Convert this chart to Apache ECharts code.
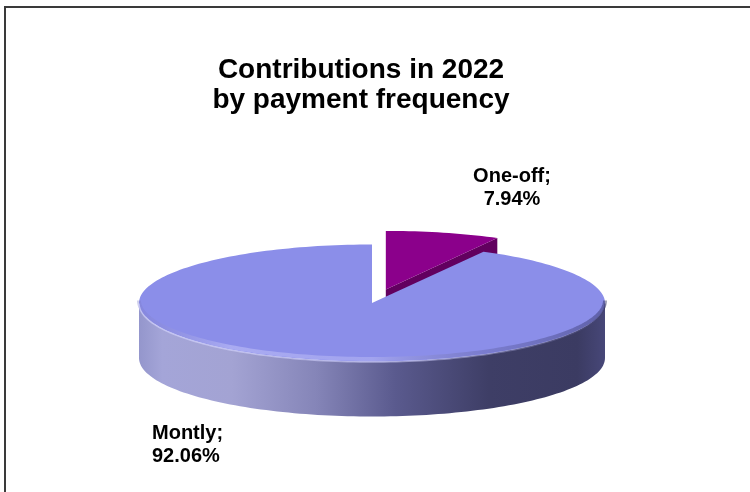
<!DOCTYPE html>
<html>
<head>
<meta charset="utf-8">
<script src="https://cdn.jsdelivr.net/npm/echarts@6/dist/echarts.min.js"></script>
<style>
html,body{margin:0;padding:0;background:#fff;}
#chart{width:750px;height:492px;}
</style>
</head>
<body>
<div id="chart"></div>
<script>
// ---- data ----
const categories = ['One-off', 'Montly'];
const shares = [7.94, 92.06];
const titleLines = ['Contributions in 2022', 'by payment frequency'];

// ---- style / geometry ----
const CX = 372, CY = 303, RX = 233, RY = 58.5, DEPTH = 55;
const EXPLODE = [0.24, 0];
const TOP_COLORS = ['#8b008b', '#8b8ee9'];
const CUT_COLORS = ['#62005f', '#6f72c8'];

function pt(theta, ox, oy, dz) {
  return [CX + ox + RX * Math.sin(theta), CY + oy - RY * Math.cos(theta) + (dz || 0)];
}
function arc(a0, a1, ox, oy, dz) {
  const n = Math.max(8, Math.ceil((a1 - a0) / (Math.PI / 120)));
  const pts = [];
  for (let k = 0; k <= n; k++) pts.push(pt(a0 + (a1 - a0) * k / n, ox, oy, dz));
  return pts;
}

function renderItem(params, api) {
  const i = params.dataIndex;
  const total = shares.reduce((a, b) => a + b, 0);
  let before = 0;
  for (let j = 0; j < i; j++) before += shares[j];
  const val = api.value(1);
  const a0 = before / total * 2 * Math.PI;
  const a1 = (before + val) / total * 2 * Math.PI;
  const mid = (a0 + a1) / 2;
  const ex = EXPLODE[i];
  const ox = RX * ex * Math.sin(mid), oy = -RY * ex * Math.cos(mid);
  const c = [CX + ox, CY + oy];
  const base = i === 0 ? 0 : 10;
  const children = [];

  // outer wall (front half only)
  const s = Math.max(a0, Math.PI / 2), e = Math.min(a1, 3 * Math.PI / 2);
  if (e > s) {
    const top = arc(s, e, ox, oy, 0);
    const bot = arc(s, e, ox, oy, DEPTH).reverse();
    children.push({
      type: 'polygon', z2: base + 1,
      shape: { points: top.concat(bot) },
      style: {
        fill: new echarts.graphic.LinearGradient(1, 0, 0, 0, [
          { offset: 0, color: '#474778' },
          { offset: 0.06, color: '#3b3b62' },
          { offset: 0.25, color: '#3e3e66' },
          { offset: 0.45, color: '#5a5a8e' },
          { offset: 0.62, color: '#8585b8' },
          { offset: 0.8, color: '#a3a3d3' },
          { offset: 0.95, color: '#a4a5d8' },
          { offset: 1, color: '#9496cc' }
        ])
      }
    });
  }

  // visible radial cut face (end edge of the exploded slice)
  if (ex > 0) {
    const r1 = pt(a1, ox, oy, 0), r2 = pt(a1, ox, oy, DEPTH);
    children.push({
      type: 'polygon', z2: base + 1,
      shape: { points: [c, r1, r2, [c[0], c[1] + DEPTH]] },
      style: { fill: CUT_COLORS[i] }
    });
  }

  // top face
  children.push({
    type: 'polygon', z2: base + 2,
    shape: { points: [c].concat(arc(a0, a1, ox, oy, 0)) },
    style: { fill: TOP_COLORS[i] }
  });

  // bevel highlight along the front rim
  if (e > s) {
    children.push({
      type: 'polyline', z2: base + 3,
      shape: { points: arc(s, e, ox, oy, -2.5) },
      style: {
        fill: null, lineWidth: 4,
        stroke: new echarts.graphic.LinearGradient(1, 0, 0, 0, [
          { offset: 0, color: 'rgba(40,40,90,0.45)' },
          { offset: 0.25, color: 'rgba(80,80,140,0.3)' },
          { offset: 0.5, color: 'rgba(190,190,245,0.45)' },
          { offset: 0.8, color: 'rgba(200,200,250,0.5)' },
          { offset: 1, color: 'rgba(120,120,200,0.35)' }
        ])
      }
    });
    children.push({
      type: 'polyline', z2: base + 3,
      shape: { points: arc(s, e, ox, oy, 0.5) },
      style: {
        fill: null, lineWidth: 1.5,
        stroke: new echarts.graphic.LinearGradient(1, 0, 0, 0, [
          { offset: 0, color: 'rgba(60,60,110,0.6)' },
          { offset: 0.4, color: 'rgba(200,200,245,0.6)' },
          { offset: 1, color: 'rgba(210,210,250,0.7)' }
        ])
      }
    });
  }
  return { type: 'group', children };
}

const labelTexts = categories.map((n, k) => n + ';\n' + shares[k].toFixed(2) + '%');

const chart = echarts.init(document.getElementById('chart'), null, { renderer: 'canvas' });
chart.setOption({
  backgroundColor: '#fff',
  animation: false,
  title: {
    text: titleLines.join('\n'),
    left: 361, top: 55, padding: 0,
    textAlign: 'center',
    textStyle: {
      fontFamily: 'Liberation Sans, Arial, sans-serif',
      fontWeight: 'bold', fontSize: 28, lineHeight: 30, color: '#000'
    }
  },
  graphic: [
    { type: 'rect', z: 100, silent: true,
      shape: { x: 5, y: 7, width: 900, height: 700 },
      style: { fill: null, stroke: '#3a3a3a', lineWidth: 2 } },
    { type: 'text', x: 512, y: 165, z: 50,
      style: { text: labelTexts[0], align: 'center', verticalAlign: 'top',
        font: 'bold 20px "Liberation Sans", Arial, sans-serif', lineHeight: 23, fill: '#000' } },
    { type: 'text', x: 152, y: 422, z: 50,
      style: { text: labelTexts[1], align: 'left', verticalAlign: 'top',
        font: 'bold 20px "Liberation Sans", Arial, sans-serif', lineHeight: 23, fill: '#000' } }
  ],
  series: [{
    type: 'custom',
    coordinateSystem: 'none',
    renderItem: renderItem,
    data: categories.map((n, k) => ({ name: n, value: [k, shares[k]] }))
  }]
});
</script>
</body>
</html>
